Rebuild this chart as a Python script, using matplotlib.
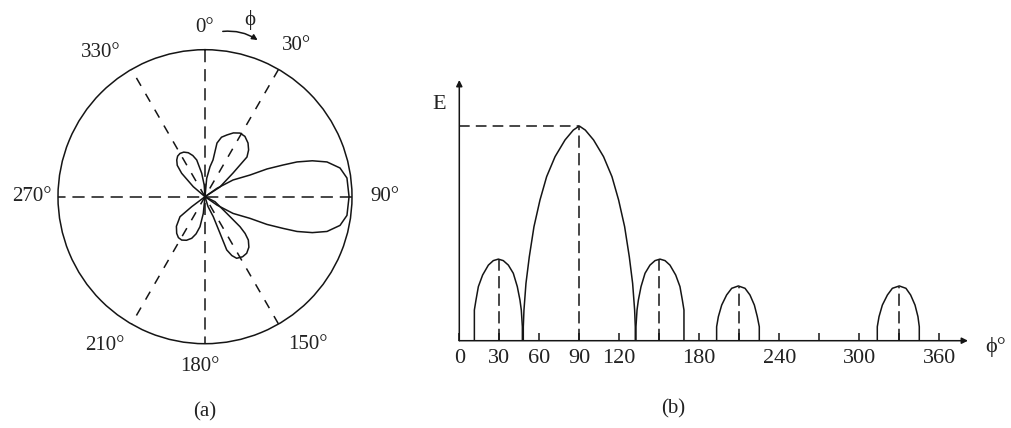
import numpy as np
import matplotlib
matplotlib.use('Agg')
import matplotlib.pyplot as plt

plt.rcParams['font.family'] = ['Liberation Serif', 'DejaVu Serif']

ink = '#151515'

# ---- (a) polar pattern: outlines as (bearing deg, relative radius) ----
main_th = [50, 55, 59.2, 64.3, 65.9, 67.9, 69.3, 71.5, 74.1, 78, 82.5, 90,
           97.5, 102, 105.9, 108.5, 110.7, 112.1, 114.1, 115.7, 120.8, 125, 130]
main_r = [0, 0.10, 0.222, 0.34, 0.462, 0.573, 0.669, 0.77, 0.863, 0.939, 0.974, 0.98,
          0.974, 0.939, 0.863, 0.77, 0.669, 0.573, 0.462, 0.34, 0.222, 0.10, 0]

lobe30_th = [2, 5.3, 9.5, 12.3, 12.6, 15.5, 19.6, 24, 28.8, 33.5, 38.7, 43, 46.6, 49.8, 57.1, 60]
lobe30_r = [0, 0.126, 0.207, 0.256, 0.374, 0.42, 0.446, 0.475, 0.494, 0.492, 0.468, 0.435, 0.393, 0.25, 0.12, 0]

lobe330_th = [305, 310.5, 315.1, 318.5, 322.4, 326, 330, 334.5, 339.2, 343.5, 347.3, 352, 356, 0]
lobe330_r = [0, 0.105, 0.225, 0.285, 0.315, 0.333, 0.34, 0.336, 0.32, 0.292, 0.256, 0.161, 0.08, 0]

lobe150_th = [112, 116.6, 127.4, 130.6, 132.5, 135, 139, 143.6, 148, 152.8, 155.5, 157.8, 157.7, 157.5, 163, 170]
lobe150_r = [0, 0.076, 0.186, 0.314, 0.37, 0.417, 0.455, 0.478, 0.482, 0.471, 0.44, 0.391, 0.269, 0.147, 0.07, 0]

lobe210_th = [180, 185.8, 189.5, 193.5, 197.7, 203, 208.3, 213, 217.7, 224, 231.3, 233.1, 235]
lobe210_r = [0, 0.114, 0.207, 0.26, 0.297, 0.322, 0.335, 0.332, 0.315, 0.28, 0.218, 0.113, 0]

polar_lines = [0, 30, 90, 150]
polar_labels = ['0°', '30°', '90°', '150°', '180°', '210°', '270°', '330°']

# ---- (b) E versus phi ----
l30_x = [11.3, 11.3, 12.5, 14.3, 17.5, 21.8, 25.5, 29.3, 33.0, 36.8, 40.5, 43.5, 45.5, 46.5, 47.3, 47.3]
l30_y = [0, 0.143, 0.189, 0.252, 0.306, 0.352, 0.373, 0.380, 0.373, 0.352, 0.314, 0.252, 0.189, 0.143, 0.065, 0]

main_x = [48.0, 48.0, 48.5, 50.0, 52.5, 56.0, 60.5, 65.5, 71.8, 79.3, 85.5, 90.0,
          94.5, 100.7, 108.2, 114.5, 119.5, 124.0, 127.5, 130.0, 131.5, 132.0, 132.0]
main_y = [0, 0.065, 0.143, 0.267, 0.391, 0.531, 0.655, 0.764, 0.857, 0.935, 0.981, 1.0,
          0.981, 0.935, 0.857, 0.764, 0.655, 0.531, 0.391, 0.267, 0.143, 0.065, 0]

l150_x = [132.5, 132.5, 133.3, 134.3, 136.3, 139.3, 143.0, 146.8, 150.5, 154.3, 158.0, 162.3, 165.5, 167.3, 168.5, 168.5]
l150_y = [0, 0.065, 0.143, 0.189, 0.252, 0.314, 0.352, 0.373, 0.380, 0.373, 0.352, 0.306, 0.252, 0.189, 0.143, 0]

l210_x = [193.0, 193.0, 194.3, 196.8, 200.5, 204.3, 209.3, 214.3, 218.0, 221.3, 223.5, 225.0, 225.0]
l330_x = [313.5, 313.5, 314.8, 317.3, 321.1, 324.8, 330.0, 335.0, 338.5, 341.8, 344.0, 345.0, 345.0]
small_y = [0, 0.065, 0.112, 0.166, 0.213, 0.244, 0.255, 0.244, 0.213, 0.166, 0.112, 0.065, 0]

peak_x = [30, 90, 150, 210, 330]
peak_y = [0.375, 1.0, 0.375, 0.25, 0.25]

xticks = list(range(0, 361, 30))
xtick_labels = ['0', '30', '60', '90', '120', '', '180', '', '240', '', '300', '', '360']

W, H = 1011, 428
fig = plt.figure(figsize=(W / 100, H / 100), dpi=100)

# polar part
cx, cy, R = 205, 196.7, 147
ax = fig.add_axes([(cx - R) / W, (H - cy - R) / H, 2 * R / W, 2 * R / H], projection='polar')
ax.set_theta_zero_location('N')
ax.set_theta_direction(-1)
ax.set_ylim(0, 1)
ax.grid(False)
ax.set_xticks([])
ax.set_yticks([])
ax.spines['polar'].set_linewidth(1.1)
ax.spines['polar'].set_color(ink)

for a in polar_lines:
    t = np.deg2rad([a, a + 180])
    d = (8, 4.5) if a % 90 == 0 else (6, 6)
    ax.plot(t, [1, 1], color=ink, lw=1.1, dashes=d)

for th, r in [(main_th, main_r), (lobe30_th, lobe30_r), (lobe330_th, lobe330_r),
              (lobe150_th, lobe150_r), (lobe210_th, lobe210_r)]:
    ax.plot(np.deg2rad(th), r, color=ink, lw=1.1)

label_pos = {'0°': (0, 1.154), '30°': (31, 1.203), '90°': (90, 1.221), '150°': (145.2, 1.227),
             '180°': (181.9, 1.157), '210°': (213.8, 1.222), '270°': (270, 1.177), '330°': (324.1, 1.207)}
for s in polar_labels:
    b, r = label_pos[s]
    ax.text(np.deg2rad(b), r, s, ha='center', va='center', fontsize=15, color='#222')

ax.text(np.deg2rad(14.3), 1.24, 'ϕ', ha='center', va='center', fontsize=15, color='#222')
ax.annotate('', xy=(np.deg2rad(19.5), 1.119), xytext=(np.deg2rad(5.2), 1.127),
            arrowprops=dict(arrowstyle='-|>', connectionstyle='arc3,rad=-0.2',
                            lw=1.1, color=ink, mutation_scale=8),
            annotation_clip=False)

# cartesian part
x0, y0, x1, y1 = 459.3, 340.7, 968, 80
bx = fig.add_axes([x0 / W, (H - y0) / H, (x1 - x0) / W, (y0 - y1) / H])
bx.set_xlim(0, (x1 - x0) / 1.3333)
bx.set_ylim(0, (y0 - y1) / 214.7)
for sp in bx.spines.values():
    sp.set_visible(False)
bx.annotate('', xy=(1, 0), xytext=(0, 0), xycoords='axes fraction',
            arrowprops=dict(arrowstyle='-|>', lw=1.1, color=ink, mutation_scale=9, shrinkA=0, shrinkB=0))
bx.annotate('', xy=(0, 1), xytext=(0, 0), xycoords='axes fraction',
            arrowprops=dict(arrowstyle='-|>', lw=1.1, color=ink, mutation_scale=9, shrinkA=0, shrinkB=0))

for xs, ys in [(l30_x, l30_y), (main_x, main_y), (l150_x, l150_y), (l210_x, small_y), (l330_x, small_y)]:
    bx.plot(xs, ys, color=ink, lw=1.1)

for px, py in zip(peak_x, peak_y):
    bx.plot([px, px], [0, py], color=ink, lw=1.1, dashes=(8, 3.5))
bx.plot([0, peak_x[1]], [peak_y[1], peak_y[1]], color=ink, lw=1.1, dashes=(7, 4))

bx.set_xticks(xticks)
bx.set_xticklabels(xtick_labels, fontsize=16, color='#222')
bx.tick_params(axis='x', direction='in', length=6, width=1.1, color=ink, pad=6)
bx.set_yticks([])
bx.patch.set_alpha(0)

fig.text(439 / W, 1 - 104.5 / H, 'E', ha='center', va='center', fontsize=16, color='#222')
fig.text(996 / W, 1 - 347 / H, 'ϕ°', ha='center', va='center', fontsize=16, color='#222')
fig.text(205 / W, 1 - 412 / H, '(a)', ha='center', va='center', fontsize=15, color='#222')
fig.text(673 / W, 1 - 409 / H, '(b)', ha='center', va='center', fontsize=15, color='#222')

fig.savefig('out.png', dpi=100, facecolor='white')
